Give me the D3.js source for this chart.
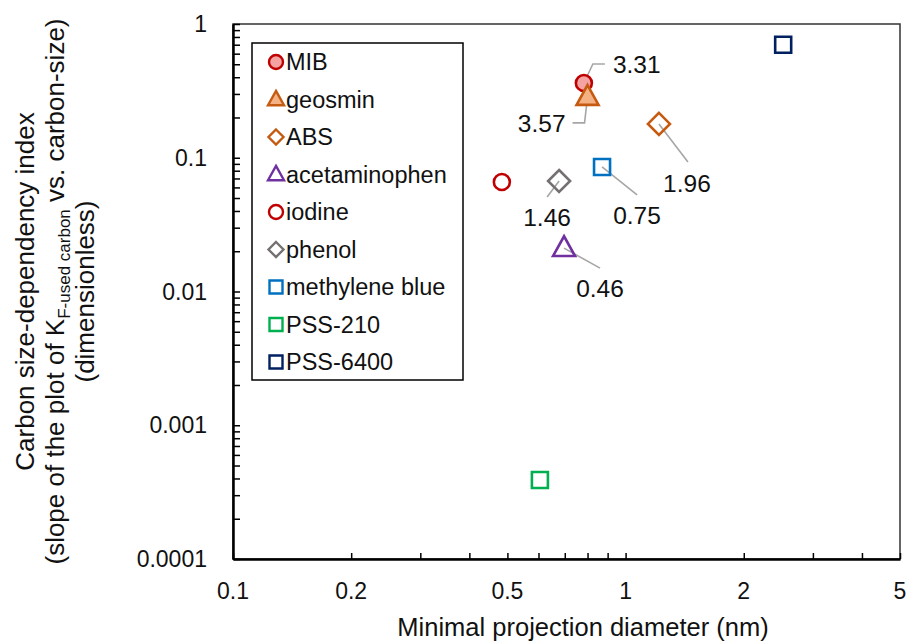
<!DOCTYPE html>
<html>
<head>
<meta charset="utf-8">
<script src="https://cdn.jsdelivr.net/npm/d3@7/dist/d3.min.js"></script>
<style>
  html, body { margin: 0; padding: 0; background: #fff; }
  svg { display: block; font-family: Arial, "Liberation Sans", sans-serif; }
</style>
</head>
<body>
<svg id="chart" width="911" height="644"></svg>
<script>
// Compounds and their measured values
const compounds = ["MIB", "geosmin", "ABS", "acetaminophen", "iodine", "phenol", "methylene blue", "PSS-210", "PSS-6400"];
const diameters = [0.783, 0.800, 1.216, 0.697, 0.484, 0.677, 0.871, 0.605, 2.52];      // nm
const sizeIndex = [0.362, 0.285, 0.179, 0.0211, 0.0659, 0.067, 0.0853, 0.00039, 0.70]; // dimensionless
const shapes = ["circle", "triangle", "diamond", "triangle", "circle", "diamond", "square", "square", "square"];
const strokes = ["#C00000", "#C55A11", "#C55A11", "#7030A0", "#C00000", "#767171", "#0070C0", "#00B050", "#002060"];
const fills = ["#F4A2A2", "#F4B183", "none", "none", "none", "none", "none", "none", "none"];

// Annotated values (attached to compounds)
const annotCompounds = ["MIB", "geosmin", "ABS", "phenol", "methylene blue", "acetaminophen"];
const annotLabels = ["3.31", "3.57", "1.96", "1.46", "0.75", "0.46"];

const xTickValues = [0.1, 0.2, 0.5, 1, 2, 5];
const xTickLabels = ["0.1", "0.2", "0.5", "1", "2", "5"];
const yTickValues = [1, 0.1, 0.01, 0.001, 0.0001];
const yTickLabels = ["1", "0.1", "0.01", "0.001", "0.0001"];

const margin = { left: 233, right: 11, top: 24, bottom: 85 };
const W = 911, H = 644;
const svg = d3.select("#chart");

const x = d3.scaleLog().domain([0.1, 5]).range([margin.left, W - margin.right]);
const y = d3.scaleLog().domain([0.0001, 1]).range([H - margin.bottom, margin.top]);

// minor ticks: 1..9 within each decade
function minorTicks(lo, hi) {
  const out = [];
  for (let e = Math.floor(Math.log10(lo)); e <= Math.ceil(Math.log10(hi)); e++) {
    for (let m = 1; m <= 9; m++) {
      const v = m * Math.pow(10, e);
      if (v >= lo * 0.9999 && v <= hi * 1.0001) out.push(v);
    }
  }
  return out;
}

// plot frame (top and right)
svg.append("rect")
  .attr("x", x(0.1)).attr("y", y(1))
  .attr("width", x(5) - x(0.1)).attr("height", y(0.0001) - y(1))
  .attr("fill", "none").attr("stroke", "#333").attr("stroke-width", 1.5);

// x axis (ticks point inward)
const xAxis = d3.axisBottom(x).tickValues(minorTicks(0.1, 5)).tickSizeInner(-6).tickSizeOuter(0).tickFormat("");
const gx = svg.append("g").attr("transform", `translate(0,${y(0.0001)})`).call(xAxis);
gx.select(".domain").attr("stroke", "#000").attr("stroke-width", 2.5);
gx.selectAll(".tick line").attr("stroke", "#000").attr("stroke-width", 1.5);
svg.append("g").selectAll("text").data(xTickValues).join("text")
  .attr("x", d => x(d)).attr("y", y(0.0001) + 40)
  .attr("text-anchor", "middle").attr("font-size", 23).attr("fill", "#111")
  .text((d, i) => xTickLabels[i]);

// y axis (ticks point inward)
const yAxis = d3.axisLeft(y).tickValues(minorTicks(0.0001, 1)).tickSizeInner(-7).tickSizeOuter(0).tickFormat("");
const gy = svg.append("g").attr("transform", `translate(${x(0.1)},0)`).call(yAxis);
gy.select(".domain").attr("stroke", "#000").attr("stroke-width", 2.5);
gy.selectAll(".tick line").attr("stroke", "#000").attr("stroke-width", 1.5);
svg.append("g").selectAll("text").data(yTickValues).join("text")
  .attr("x", x(0.1) - 26).attr("y", d => y(d)).attr("dy", "0.35em")
  .attr("text-anchor", "end").attr("font-size", 23).attr("fill", "#111")
  .text((d, i) => yTickLabels[i]);

// axis titles
svg.append("text")
  .attr("x", 583).attr("y", 636)
  .attr("text-anchor", "middle").attr("font-size", 25.5).attr("fill", "#111")
  .text("Minimal projection diameter (nm)");

const yMid = (y(1) + y(0.0001)) / 2;
const yTitle = svg.append("g").attr("transform", `translate(0,${yMid}) rotate(-90)`)
  .attr("font-size", 26).attr("fill", "#111").attr("text-anchor", "middle");
yTitle.append("text").attr("x", 0).attr("y", 34).text("Carbon size-dependency index");
const l2 = yTitle.append("text").attr("x", 0).attr("y", 64);
l2.append("tspan").text("(slope of the plot of K");
l2.append("tspan").attr("font-size", 17).attr("dy", 6).text("F-used carbon");
l2.append("tspan").attr("dy", -6).text(" vs. carbon-size)");
yTitle.append("text").attr("x", 0).attr("y", 94).text("(dimensionless)");

// marker path generator
function markerPath(shape, s) {
  switch (shape) {
    case "circle": return d3.symbol(d3.symbolCircle, Math.PI * s * s / 4)();
    case "triangle": {
      const h = s * 0.9, w = s;
      return `M0,${-h * 0.6}L${w / 2},${h * 0.4}L${-w / 2},${h * 0.4}Z`;
    }
    case "diamond": {
      const r = s / 2;
      return `M0,${-r}L${r},0L0,${r}L${-r},0Z`;
    }
    case "square": {
      const r = s / 2;
      return `M${-r},${-r}H${r}V${r}H${-r}Z`;
    }
  }
}
const markSize = { circle: 16, triangle: 22, diamond: 22, square: 16 };

// leader lines and value labels
const annotLayout = {
  "MIB": { path: [[9, -19], [21, -19]], tx: 29, ty: -19, anchor: "start" },
  "geosmin": { path: [[-3, 26], [-15, 26]], tx: -22, ty: 26, anchor: "end" },
  "ABS": { path: [[29, 38]], tx: 28, ty: 59, anchor: "middle" },
  "phenol": { path: [[-12, 16]], tx: -12, ty: 36, anchor: "middle" },
  "methylene blue": { path: [[35, 28]], tx: 35, ty: 48, anchor: "middle" },
  "acetaminophen": { path: [[36, 20]], tx: 36, ty: 40, anchor: "middle" }
};
const ann = svg.append("g");
annotCompounds.forEach((c, i) => {
  const k = compounds.indexOf(c);
  const px = x(diameters[k]), py = y(sizeIndex[k]);
  const lay = annotLayout[c];
  const pts = [[px, py]].concat(lay.path.map(p => [px + p[0], py + p[1]]));
  ann.append("path").attr("d", d3.line()(pts))
    .attr("fill", "none").attr("stroke", "#A6A6A6").attr("stroke-width", 1.6);
  ann.append("text").attr("x", px + lay.tx).attr("y", py + lay.ty).attr("dy", "0.36em")
    .attr("text-anchor", lay.anchor).attr("font-size", 24.5).attr("fill", "#111")
    .text(annotLabels[i]);
});

// data points
svg.append("g").selectAll("path").data(compounds).join("path")
  .attr("transform", (d, i) => `translate(${x(diameters[i])},${y(sizeIndex[i])})`)
  .attr("d", (d, i) => markerPath(shapes[i], markSize[shapes[i]]))
  .attr("fill", (d, i) => fills[i] === "none" ? "#fff" : fills[i])
  .attr("fill-opacity", (d, i) => fills[i] === "none" ? 0 : 1)
  .attr("stroke", (d, i) => strokes[i]).attr("stroke-width", 2.6)
  .attr("stroke-linejoin", "miter");

// legend
const lg = svg.append("g");
lg.append("rect").attr("x", 252).attr("y", 43).attr("width", 211).attr("height", 337)
  .attr("fill", "#fff").attr("stroke", "#000").attr("stroke-width", 1.5);
const legSize = { circle: 14, triangle: 16, diamond: 15, square: 13 };
compounds.forEach((c, i) => {
  const ry = 62 + i * 37.5;
  lg.append("path").attr("transform", `translate(276,${ry})`)
    .attr("d", markerPath(shapes[i], legSize[shapes[i]]))
    .attr("fill", fills[i] === "none" ? "#fff" : fills[i])
    .attr("stroke", strokes[i]).attr("stroke-width", 2.4);
  lg.append("text").attr("x", 286).attr("y", ry).attr("dy", "0.36em")
    .attr("font-size", 23.5).attr("fill", "#111").text(c);
});
</script>
</body>
</html>
